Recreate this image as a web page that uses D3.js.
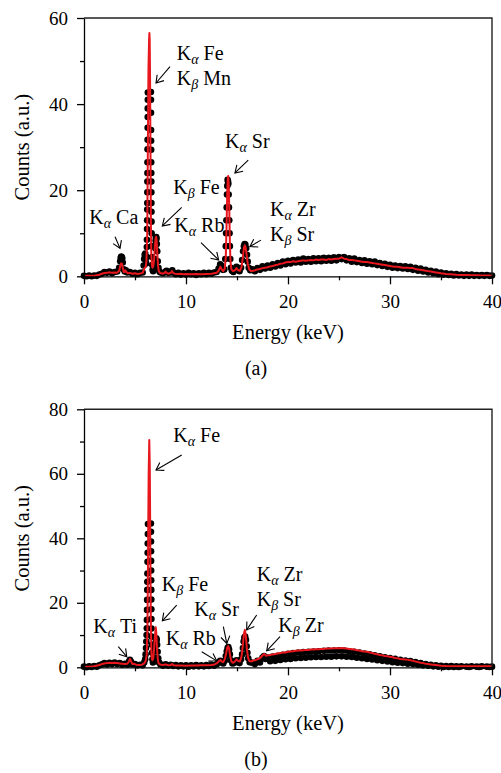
<!DOCTYPE html>
<html>
<head>
<meta charset="utf-8">
<script src="https://cdn.jsdelivr.net/npm/d3@7"></script>
<style>
  body { margin: 0; background: #fff; }
</style>
</head>
<body>
<div id="chart"></div>
<script>
//******************************************************
// DATA - XRF spectra, [energy keV, counts a.u.]
//******************************************************

var energyTicks = [0, 10, 20, 30, 40];
var energyMinor = [5, 15, 25, 35];
var countTicksA = [0, 20, 40, 60];
var countMinorA = [10, 30, 50];
var countTicksB = [0, 20, 40, 60, 80];
var countMinorB = [10, 30, 50, 70];

// (a) measured points
var measuredA = [
  [0, 0.1], [0.25, 0], [0.5, 0.2], [0.75, 0], [1, 0.2], [1.25, 0.1], [1.5, 0.4], [1.75, 0.6], [2, 1.0], [2.25, 0.8],
  [2.5, 1.1], [2.75, 0.7], [3, 1.0], [3.25, 1.1], [3.45, 2.0], [3.55, 3.5], [3.6, 4.3], [3.65, 4.6], [3.7, 4.5], [3.75, 4.2],
  [3.8, 3.2], [3.9, 1.6], [4, 1.1], [4.1, 1.4], [4.25, 0.9], [4.5, 1.0], [4.75, 0.6], [5, 0.8], [5.25, 0.5], [5.5, 0.8],
  [5.75, 0.9], [5.85, 2.5], [5.9, 4.0], [5.95, 5.0], [6, 5.3], [6.05, 4.0], [6.1, 3.0], [6.14, 4.5],
  [6.16, 6.8], [6.17, 8.5], [6.18, 11], [6.19, 13], [6.2, 15.5], [6.205, 17], [6.21, 19.5], [6.215, 22], [6.22, 24],
  [6.225, 26.5], [6.23, 29.5], [6.235, 31.7], [6.24, 34.5], [6.245, 37], [6.25, 39], [6.255, 41], [6.26, 42.7],
  [6.56, 42.8], [6.565, 41], [6.57, 38], [6.575, 34], [6.58, 31.5], [6.585, 29.4], [6.59, 26.5], [6.595, 24], [6.6, 22],
  [6.605, 19.5], [6.61, 17], [6.615, 15], [6.62, 12.7], [6.63, 10], [6.64, 7], [6.66, 4.5], [6.69, 2.6], [6.73, 1.5],
  [6.78, 1.2], [6.84, 1.5], [6.9, 2.5], [6.95, 4], [6.99, 6.5], [7.02, 8.3], [7.05, 9.0], [7.08, 9.1], [7.11, 8.7],
  [7.14, 7.5], [7.18, 5.8], [7.23, 3.5], [7.3, 2.0], [7.4, 1.1], [7.5, 0.9], [7.75, 0.7], [8, 1.1], [8.1, 1.3], [8.25, 0.8],
  [8.5, 0.9], [8.65, 1.4], [8.75, 0.9], [9, 0.5], [9.25, 0.8], [9.5, 0.4], [9.75, 0.7], [10, 0.4], [10.25, 0.8], [10.5, 0.5],
  [10.75, 0.7], [11, 0.3], [11.25, 0.7], [11.5, 0.5], [11.75, 0.8], [12, 0.5], [12.25, 0.8], [12.5, 0.6], [12.75, 0.9],
  [13, 1.0], [13.2, 1.8], [13.35, 2.8], [13.45, 2.5], [13.6, 1.5], [13.75, 1.6], [13.85, 4], [13.9, 7], [13.93, 10],
  [13.96, 13], [13.99, 16], [14.02, 19], [14.05, 21], [14.08, 22.4], [14.12, 22.0], [14.15, 21.5], [14.18, 19], [14.21, 16],
  [14.24, 13], [14.27, 10], [14.3, 7], [14.34, 4], [14.4, 2], [14.5, 1.3], [14.65, 1.0], [14.8, 1.6], [14.95, 2.2],
  [15.1, 1.5], [15.25, 1.2], [15.4, 2.0], [15.5, 3.8], [15.6, 5.8], [15.68, 7.0], [15.75, 7.5], [15.82, 7.4], [15.9, 6.5],
  [15.98, 5.0], [16.05, 3.4], [16.15, 2.0], [16.3, 1.4], [16.5, 1.6], [16.75, 1.2], [17, 1.9], [17.25, 1.5], [17.5, 2.3],
  [17.75, 1.8], [18, 2.5], [18.25, 2.0], [18.5, 2.8], [18.75, 2.3], [19, 3.1], [19.25, 2.5], [19.5, 3.4], [19.75, 2.8],
  [20, 3.6], [20.25, 3.0], [20.5, 3.8], [20.75, 3.2], [21, 3.9], [21.25, 3.2], [21.5, 4.1], [21.75, 3.4], [22, 4.0],
  [22.25, 3.4], [22.5, 4.2], [22.75, 3.5], [23, 4.2], [23.25, 3.5], [23.5, 4.3], [23.75, 3.6], [24, 4.3], [24.25, 3.6],
  [24.5, 4.4], [24.75, 3.7], [25, 4.5], [25.25, 4.0], [25.5, 4.5], [25.75, 3.7], [26, 4.2], [26.25, 3.4], [26.5, 4.1],
  [26.75, 3.3], [27, 3.8], [27.25, 3.1], [27.5, 3.7], [27.75, 2.9], [28, 3.5], [28.25, 2.8], [28.5, 3.4], [28.75, 2.6],
  [29, 3.1], [29.25, 2.4], [29.5, 2.9], [29.75, 2.2], [30, 2.7], [30.25, 2.0], [30.5, 2.5], [30.75, 1.9], [31, 2.4],
  [31.25, 1.8], [31.5, 2.3], [31.75, 1.7], [32, 2.2], [32.25, 1.5], [32.5, 2.0], [32.75, 1.3], [33, 1.8], [33.25, 1.1],
  [33.5, 1.5], [33.75, 0.9], [34, 1.3], [34.25, 0.7], [34.5, 1.1], [34.75, 0.5], [35, 0.9], [35.25, 0.4], [35.5, 0.7],
  [35.75, 0.3], [36, 0.6], [36.25, 0.2], [36.5, 0.5], [36.75, 0.2], [37, 0.4], [37.25, 0.1], [37.5, 0.4], [37.75, 0.1],
  [38, 0.4], [38.25, 0.1], [38.5, 0.3], [38.75, 0.1], [39, 0.3], [39.25, 0.1], [39.5, 0.3], [39.75, 0.1], [40, 0.2]
];

// (a) fitted curve
var fitA = [
  [0, 0.1], [0.5, 0.15], [1, 0.15], [1.5, 0.35], [1.75, 0.6], [2, 0.75], [2.25, 0.8], [2.5, 0.95], [2.75, 0.8], [3, 0.9],
  [3.25, 0.85], [3.45, 1.3], [3.55, 2.4], [3.65, 3.0], [3.72, 2.9], [3.8, 1.9], [3.9, 1.0], [4, 1.0], [4.05, 1.4], [4.15, 1.0],
  [4.3, 0.7], [4.5, 0.8], [4.75, 0.6], [5, 0.7], [5.25, 0.55], [5.5, 0.65], [5.75, 0.8], [5.85, 1.4], [5.95, 2.0], [6.05, 2.2],
  [6.12, 3.5], [6.2, 10], [6.26, 30], [6.32, 48], [6.38, 55], [6.41, 56.5], [6.44, 55], [6.48, 45], [6.52, 28], [6.56, 12],
  [6.6, 5], [6.66, 2.5], [6.72, 2.0], [6.8, 2.4], [6.88, 4], [6.95, 7], [7.02, 8.8], [7.07, 9.2], [7.12, 8.2], [7.18, 5.5],
  [7.25, 2.8], [7.32, 1.3], [7.45, 0.8], [7.6, 0.7], [7.75, 0.6], [7.9, 0.8], [8, 1.1], [8.1, 0.8], [8.25, 0.6], [8.4, 0.7],
  [8.55, 0.9], [8.63, 1.2], [8.72, 0.8], [8.9, 0.6], [9.25, 0.55], [9.5, 0.6], [9.75, 0.5], [10, 0.55], [10.5, 0.5], [11, 0.55],
  [11.5, 0.5], [12, 0.55], [12.5, 0.6], [12.75, 0.7], [13, 0.8], [13.2, 1.3], [13.37, 2.2], [13.5, 1.6], [13.65, 1.2], [13.8, 1.8],
  [13.9, 4.5], [13.98, 12], [14.05, 20], [14.1, 23], [14.14, 23.3], [14.18, 22], [14.24, 16], [14.3, 8], [14.36, 3.5], [14.45, 1.6],
  [14.6, 1.2], [14.8, 1.4], [14.95, 1.9], [15.1, 1.4], [15.3, 1.3], [15.45, 2.2], [15.58, 4.5], [15.68, 6.6], [15.76, 7.2],
  [15.84, 6.8], [15.94, 5.0], [16.05, 3.0], [16.2, 1.6], [16.4, 1.2], [16.6, 1.3], [16.8, 1.4], [17, 1.6], [17.25, 1.7],
  [17.5, 1.9], [17.75, 2.0], [18, 2.1], [18.25, 2.3], [18.5, 2.4], [18.75, 2.6], [19, 2.7], [19.25, 2.9], [19.5, 3.0],
  [19.75, 3.2], [20, 3.3], [20.25, 3.3], [20.5, 3.5], [20.75, 3.4], [21, 3.5], [21.25, 3.6], [21.5, 3.7], [21.75, 3.6],
  [22, 3.7], [22.25, 3.8], [22.5, 3.7], [22.75, 3.9], [23, 3.8], [23.25, 3.9], [23.5, 3.9], [23.75, 3.8], [24, 4.0],
  [24.25, 3.9], [24.5, 4.0], [24.75, 4.1], [25, 4.1], [25.25, 4.4], [25.5, 4.1], [25.75, 4.0], [26, 3.8], [26.25, 3.8],
  [26.5, 3.7], [26.75, 3.6], [27, 3.5], [27.25, 3.4], [27.5, 3.3], [27.75, 3.3], [28, 3.2], [28.25, 3.1], [28.5, 3.0],
  [28.75, 2.9], [29, 2.8], [29.25, 2.7], [29.5, 2.6], [29.75, 2.5], [30, 2.4], [30.25, 2.3], [30.5, 2.2], [30.75, 2.2],
  [31, 2.1], [31.25, 2.0], [31.5, 2.0], [31.75, 2.0], [32, 1.9], [32.25, 1.9], [32.5, 1.7], [32.75, 1.6], [33, 1.5],
  [33.25, 1.4], [33.5, 1.3], [33.75, 1.2], [34, 1.1], [34.25, 1.0], [34.5, 0.9], [34.75, 0.8], [35, 0.7], [35.5, 0.55],
  [36, 0.45], [36.5, 0.35], [37, 0.3], [37.5, 0.3], [38, 0.25], [38.5, 0.25], [39, 0.2], [39.5, 0.2], [40, 0.2]
];

// (b) measured points
var measuredB = [
  [0, 0.2], [0.25, 0], [0.5, 0.3], [0.75, 0.1], [1, 0.4], [1.25, 0.2], [1.5, 0.6], [1.75, 0.9], [2, 1.3], [2.25, 0.9],
  [2.5, 1.4], [2.75, 1.0], [3, 1.5], [3.25, 1.0], [3.5, 1.3], [3.75, 0.8], [4, 1.1], [4.25, 0.8], [4.4, 1.7], [4.5, 2.3],
  [4.6, 1.8], [4.75, 0.9], [5, 1.0], [5.25, 0.6], [5.5, 0.8], [5.75, 0.6], [5.9, 1.5], [6, 2.5], [6.04, 4], [6.08, 6],
  [6.11, 8], [6.14, 10], [6.16, 12.1], [6.17, 14.7], [6.18, 17.8], [6.19, 20.9], [6.2, 24], [6.21, 26.5], [6.22, 29.1],
  [6.23, 32.7], [6.24, 35.5], [6.25, 38.4], [6.26, 41.3], [6.27, 44.4], [6.56, 44.6], [6.565, 42], [6.57, 39], [6.575, 36],
  [6.58, 33], [6.585, 30], [6.59, 27], [6.595, 24], [6.6, 21], [6.605, 18], [6.61, 15], [6.62, 12], [6.63, 9.5], [6.645, 7],
  [6.67, 4.5], [6.71, 2.5], [6.76, 1.5], [6.82, 1.8], [6.9, 3], [6.96, 5.5], [7.01, 7.5], [7.05, 8.7], [7.09, 9.0], [7.13, 8.5],
  [7.17, 7.0], [7.22, 4.8], [7.28, 2.8], [7.36, 1.5], [7.5, 0.9], [7.75, 0.5], [8, 0.9], [8.25, 0.5], [8.5, 0.8], [8.75, 0.4],
  [9, 0.7], [9.25, 0.3], [9.5, 0.6], [9.75, 0.3], [10, 0.6], [10.25, 0.2], [10.5, 0.6], [10.75, 0.3], [11, 0.7], [11.25, 0.3],
  [11.5, 0.6], [11.75, 0.3], [12, 0.7], [12.25, 0.4], [12.5, 0.8], [12.75, 0.5], [13, 0.9], [13.2, 1.5], [13.35, 2.0],
  [13.5, 1.5], [13.65, 1.2], [13.8, 2.0], [13.9, 3.5], [14, 5.0], [14.08, 6.0], [14.15, 6.3], [14.22, 5.5], [14.3, 4.0],
  [14.4, 2.2], [14.55, 1.2], [14.7, 1.3], [14.85, 1.8], [14.95, 2.2], [15.1, 1.6], [15.25, 1.3], [15.4, 2.5], [15.5, 4.0],
  [15.58, 6.0], [15.65, 8.0], [15.72, 9.2], [15.8, 9.5], [15.88, 8.5], [15.95, 6.5], [16.02, 4.5], [16.1, 2.8], [16.25, 1.6],
  [16.5, 1.4], [16.75, 1.0], [17, 2.0], [17.25, 1.5], [17.5, 3.0], [17.65, 3.5], [17.8, 2.6], [18, 3.0], [18.25, 1.9],
  [18.5, 3.3], [18.75, 2.0], [19, 3.6], [19.25, 2.3], [19.5, 3.9], [19.75, 2.5], [20, 4.2], [20.25, 2.6], [20.5, 4.4],
  [20.75, 2.8], [21, 4.6], [21.25, 2.9], [21.5, 4.7], [21.75, 3.0], [22, 4.8], [22.25, 3.1], [22.5, 4.9], [22.75, 3.2],
  [23, 5.0], [23.25, 3.2], [23.5, 5.1], [23.75, 3.3], [24, 5.2], [24.25, 3.3], [24.5, 5.2], [24.75, 3.4], [25, 5.3],
  [25.25, 3.4], [25.5, 5.2], [25.75, 3.3], [26, 5.0], [26.25, 3.2], [26.5, 4.8], [26.75, 3.0], [27, 4.6], [27.25, 2.8],
  [27.5, 4.3], [27.75, 2.6], [28, 4.0], [28.25, 2.4], [28.5, 3.7], [28.75, 2.2], [29, 3.4], [29.25, 2.0], [29.5, 3.1],
  [29.75, 1.8], [30, 2.9], [30.25, 1.6], [30.5, 2.6], [30.75, 1.4], [31, 2.3], [31.25, 1.3], [31.5, 2.1], [31.75, 1.1],
  [32, 1.9], [32.25, 1.0], [32.5, 1.6], [32.75, 0.8], [33, 1.3], [33.25, 0.6], [33.5, 1.0], [33.75, 0.5], [34, 0.8],
  [34.25, 0.3], [34.5, 0.6], [34.75, 0.2], [35, 0.5], [35.25, 0.1], [35.5, 0.4], [35.75, 0.1], [36, 0.4], [36.25, 0.1],
  [36.5, 0.3], [36.75, 0.1], [37, 0.3], [37.5, 0.2], [37.75, 0.1], [38, 0.3], [38.5, 0.2], [38.75, 0.1], [39, 0.3],
  [39.5, 0.2], [39.75, 0.1], [40, 0.2]
];

// (b) fitted curve
var fitB = [
  [0, 0.2], [0.5, 0.2], [1, 0.3], [1.5, 0.7], [1.75, 1.0], [2, 1.2], [2.25, 1.3], [2.5, 1.4], [2.75, 1.3], [3, 1.4],
  [3.25, 1.3], [3.5, 1.2], [3.75, 1.1], [4, 1.0], [4.25, 1.1], [4.4, 1.8], [4.51, 2.6], [4.62, 1.8], [4.75, 1.0], [4.93, 1.1],
  [5.1, 0.8], [5.4, 0.7], [5.7, 0.8], [5.9, 1.2], [6.05, 2.0], [6.15, 4], [6.22, 12], [6.28, 35], [6.34, 60], [6.4, 70.5],
  [6.45, 62], [6.5, 38], [6.55, 15], [6.6, 5], [6.66, 2.5], [6.72, 2.2], [6.8, 3], [6.88, 6], [6.96, 10], [7.03, 12.4],
  [7.08, 11], [7.14, 7], [7.22, 3], [7.3, 1.3], [7.45, 0.9], [7.6, 0.8], [7.8, 0.7], [8, 0.9], [8.1, 0.8], [8.3, 0.6],
  [8.5, 0.7], [8.63, 1.0], [8.8, 0.6], [9, 0.55], [9.5, 0.55], [10, 0.5], [10.5, 0.55], [11, 0.55], [11.5, 0.6], [12, 0.6],
  [12.5, 0.7], [12.8, 0.9], [13, 1.2], [13.2, 1.8], [13.37, 2.3], [13.5, 1.8], [13.65, 1.6], [13.8, 2.5], [13.95, 4.5],
  [14.05, 6.2], [14.14, 6.6], [14.23, 5.8], [14.33, 3.5], [14.45, 1.8], [14.6, 1.4], [14.8, 1.8], [14.95, 2.5], [15.1, 2.0],
  [15.3, 1.8], [15.45, 3.5], [15.58, 7], [15.68, 10.5], [15.77, 11.6], [15.86, 10], [15.96, 6], [16.08, 3], [16.2, 2.0],
  [16.4, 1.8], [16.6, 2.1], [16.8, 2.2], [17, 2.5], [17.25, 2.8], [17.45, 3.5], [17.6, 4.0], [17.7, 4.1], [17.85, 3.6],
  [18, 3.7], [18.25, 3.8], [18.5, 4.0], [18.75, 4.1], [19, 4.3], [19.25, 4.4], [19.5, 4.6], [19.75, 4.6], [20, 4.8],
  [20.25, 4.9], [20.5, 5.0], [20.75, 5.1], [21, 5.2], [21.25, 5.2], [21.5, 5.3], [21.75, 5.4], [22, 5.4], [22.25, 5.5],
  [22.5, 5.5], [22.75, 5.6], [23, 5.6], [23.25, 5.7], [23.5, 5.7], [23.75, 5.8], [24, 5.8], [24.25, 5.8], [24.5, 5.9],
  [24.75, 5.9], [25, 5.9], [25.25, 6.0], [25.5, 5.9], [25.75, 5.8], [26, 5.7], [26.25, 5.6], [26.5, 5.5], [26.75, 5.3],
  [27, 5.2], [27.25, 5.0], [27.5, 4.9], [27.75, 4.8], [28, 4.6], [28.25, 4.4], [28.5, 4.2], [28.75, 4.0], [29, 3.8],
  [29.25, 3.7], [29.5, 3.5], [29.75, 3.4], [30, 3.3], [30.25, 3.1], [30.5, 2.9], [30.75, 2.8], [31, 2.6], [31.25, 2.5],
  [31.5, 2.4], [31.75, 2.3], [32, 2.2], [32.25, 2.0], [32.5, 1.8], [32.75, 1.6], [33, 1.4], [33.25, 1.3], [33.5, 1.1],
  [33.75, 1.0], [34, 0.9], [34.5, 0.7], [35, 0.5], [35.5, 0.4], [36, 0.35], [37, 0.3], [38, 0.3], [39, 0.3], [40, 0.3]
];

// peak labels: greek subscript + element per line, text anchor and arrow in data units
var notesA = [
  { lines: [["α", "Fe"], ["β", "Mn"]], at: [9.09, 50.3], from: [8.43, 48.7], to: [7.06, 44.9] },
  { lines: [["α", "Sr"]], at: [13.82, 29.8], from: [16.1, 27.0], to: [14.8, 24.0] },
  { lines: [["β", "Fe"]], at: [8.75, 19.1], from: [9.58, 16.0], to: [7.68, 11.7] },
  { lines: [["α", "Rb"]], at: [8.85, 10.4], from: [11.47, 7.8], to: [13.2, 3.8] },
  { lines: [["α", "Ca"]], at: [0.52, 12.2], from: [3.04, 9.2], to: [3.53, 6.5] },
  { lines: [["α", "Zr"], ["β", "Sr"]], at: [18.24, 14.0], from: [17.35, 8.4], to: [16.27, 6.9] }
];

var notesB = [
  { lines: [["α", "Fe"]], at: [8.75, 70.0], from: [9.58, 65.8], to: [7.06, 61.2] },
  { lines: [["β", "Fe"]], at: [7.62, 23.8], from: [9.09, 19.3], to: [7.68, 14.4] },
  { lines: [["α", "Ti"]], at: [0.91, 10.5], from: [3.36, 6.4], to: [4.19, 3.3] },
  { lines: [["α", "Rb"]], at: [8.01, 6.9], from: [11.54, 4.8], to: [13.01, 2.0] },
  { lines: [["α", "Sr"]], at: [10.81, 15.9], from: [13.66, 12.6], to: [14.0, 7.4] },
  { lines: [["α", "Zr"], ["β", "Sr"]], at: [16.93, 26.8], from: [16.93, 16.2], to: [15.95, 11.6] },
  { lines: [["β", "Zr"]], at: [19.05, 11.0], from: [19.22, 9.5], to: [17.91, 5.1] }
];


//******************************************************
// SVG
//******************************************************

var width = 501;
var height = 773;
var red = "#e8161d";
var serif = "'Liberation Serif', 'Times New Roman', serif";

var svg = d3.select('#chart')
    .append("svg")
    .attr("width", width)
    .attr("height", height)
    .attr("font-family", serif);

// open arrow head
svg.append("defs")
    .append("marker")
    .attr("id", "arrow")
    .attr("viewBox", "-9 -6 11 12")
    .attr("refX", 0)
    .attr("refY", 0)
    .attr("markerWidth", 11)
    .attr("markerHeight", 12)
    .attr("markerUnits", "userSpaceOnUse")
    .attr("orient", "auto")
    .append("path")
    .attr("d", "M-7,-4.5L0,0L-7,4.5")
    .attr("fill", "none")
    .attr("stroke", "#000")
    .attr("stroke-width", 1.1);

function drawPanel(p) {
    var x = d3.scaleLinear().domain([0, 40]).range([84, 492]);
    var y = d3.scaleLinear().domain([0, p.yMax]).range([p.bottom, p.top]);
    var g = svg.append("g");

    // measured points
    g.append("g")
        .selectAll("circle")
        .data(p.measured)
        .enter()
        .append("circle")
        .attr("cx", d => x(d[0]))
        .attr("cy", d => y(d[1]))
        .attr("r", 3.3)
        .attr("fill", "#000");

    // fitted line
    g.append("path")
        .datum(p.fit)
        .attr("fill", "none")
        .attr("stroke", red)
        .attr("stroke-width", 2)
        .attr("stroke-linejoin", "round")
        .attr("d", d3.line().x(d => x(d[0])).y(d => y(d[1])));

    // top and right frame
    g.append("path")
        .attr("d", `M${x(0)},${y(p.yMax)}H${x(40)}V${y(0)}`)
        .attr("fill", "none")
        .attr("stroke", "#222")
        .attr("stroke-width", 1.4);

    // y axis
    g.append("g")
        .attr("transform", `translate(${x(0)},0)`)
        .call(d3.axisLeft(y).tickValues(p.minor).tickSize(4).tickFormat(""))
        .call(s => s.select(".domain").remove())
        .selectAll("line").attr("stroke-width", 1.3);
    var ya = g.append("g")
        .attr("transform", `translate(${x(0)},0)`)
        .call(d3.axisLeft(y).tickValues(p.ticks).tickSize(7).tickSizeOuter(0).tickPadding(9))
        .attr("font-family", serif)
        .attr("font-size", 19);
    ya.selectAll("line, path").attr("stroke-width", 1.3);

    // x axis
    g.append("g")
        .attr("transform", `translate(0,${y(0)})`)
        .call(d3.axisBottom(x).tickValues(energyMinor).tickSize(4).tickFormat(""))
        .call(s => s.select(".domain").remove())
        .selectAll("line").attr("stroke-width", 1.3);
    var xa = g.append("g")
        .attr("transform", `translate(0,${y(0)})`)
        .call(d3.axisBottom(x).tickValues(energyTicks).tickSize(8).tickSizeOuter(0).tickPadding(10))
        .attr("font-family", serif)
        .attr("font-size", 19);
    xa.selectAll("line, path").attr("stroke-width", 1.3);

    // axis titles
    g.append("text")
        .attr("text-anchor", "middle")
        .attr("x", (x(0) + x(40)) / 2)
        .attr("y", y(0) + 63)
        .attr("font-size", 20.5)
        .text("Energy (keV)");

    g.append("text")
        .attr("text-anchor", "middle")
        .attr("transform", `translate(29,${(y(0) + y(p.yMax)) / 2}) rotate(-90)`)
        .attr("font-size", 20.5)
        .text("Counts (a.u.)");

    g.append("text")
        .attr("text-anchor", "middle")
        .attr("x", 256)
        .attr("y", y(0) + 99)
        .attr("font-size", 20)
        .text(p.name);

    // peak labels
    p.notes.forEach(function (n) {
        g.append("line")
            .attr("x1", x(n.from[0]))
            .attr("y1", y(n.from[1]))
            .attr("x2", x(n.to[0]))
            .attr("y2", y(n.to[1]))
            .attr("stroke", "#000")
            .attr("stroke-width", 1.1)
            .attr("marker-end", "url(#arrow)");

        n.lines.forEach(function (l, i) {
            var t = g.append("text")
                .attr("x", x(n.at[0]))
                .attr("y", y(n.at[1]) + i * 25)
                .attr("font-size", 20);
            t.append("tspan").text("K");
            t.append("tspan")
                .attr("dy", 4)
                .attr("font-size", 14)
                .attr("font-style", "italic")
                .text(l[0]);
            t.append("tspan")
                .attr("dy", -4)
                .text(" " + l[1]);
        });
    });
}

drawPanel({ measured: measuredA, fit: fitA, yMax: 60, top: 18, bottom: 276.3,
    ticks: countTicksA, minor: countMinorA, notes: notesA, name: "(a)" });
drawPanel({ measured: measuredB, fit: fitB, yMax: 80, top: 409.3, bottom: 667.3,
    ticks: countTicksB, minor: countMinorB, notes: notesB, name: "(b)" });
</script>
</body>
</html>
